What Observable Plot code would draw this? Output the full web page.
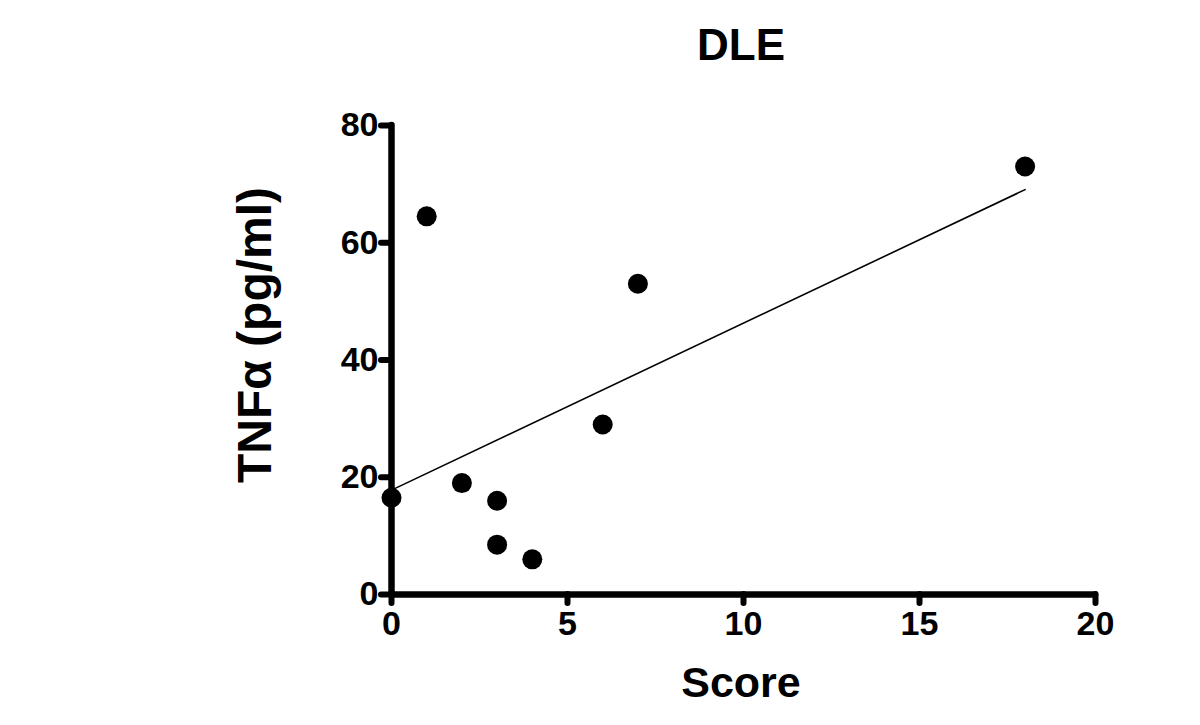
<!DOCTYPE html>
<html>
<head>
<meta charset="utf-8">
<script src="https://cdn.jsdelivr.net/npm/d3@7"></script>
<script src="https://cdn.jsdelivr.net/npm/@observablehq/plot@0.6"></script>
<style>
  html, body { margin: 0; padding: 0; background: #fff; }
  #wrap { position: relative; width: 1200px; height: 725px; font-family: 'Liberation Sans', Arial, sans-serif; font-weight: bold; color: #000; }
  #wrap svg { display: block; }
  .lbl { position: absolute; white-space: nowrap; line-height: 1; }
  #title { left: 741px; top: 45px; font-size: 44px; transform: translate(-50%, -50%); }
  #xlabel { left: 741px; top: 682px; font-size: 43px; transform: translate(-50%, -50%); }
  #ylabel { left: 255px; top: 335px; font-size: 48px; transform: translate(-50%, -50%) rotate(-90deg); }
</style>
</head>
<body>
<div id="wrap">
  <div id="chart"></div>
  <div class="lbl" id="title"></div>
  <div class="lbl" id="xlabel"></div>
  <div class="lbl" id="ylabel"></div>
</div>
<script>
const title = "DLE";
const xLabel = "Score";
const yLabel = "TNFα (pg/ml)";
const scores = [0, 1, 2, 3, 3, 4, 6, 7, 18];
const tnf = [16.5, 64.5, 19, 16, 8.5, 6, 29, 53, 73];
const xTicks = [0, 5, 10, 15, 20];
const yTicks = [0, 20, 40, 60, 80];

const data = scores.map((s, i) => ({score: s, tnf: tnf[i]}));
const font = "'Liberation Sans', Arial, sans-serif";

const chart = Plot.plot({
  width: 1200,
  height: 725,
  marginLeft: 391,
  marginRight: 105,
  marginTop: 125,
  marginBottom: 131,
  style: {fontFamily: font, background: "#fff", color: "#000"},
  x: {domain: [0, 20], ticks: xTicks},
  y: {domain: [0, 80], ticks: yTicks},
  marks: [
    Plot.axisX({ticks: xTicks, tickSize: 9, tickPadding: 7, fontSize: 34, fontWeight: "bold", strokeWidth: 6, strokeLinecap: "round", label: null}),
    Plot.axisY({ticks: yTicks, tickSize: 10, tickPadding: 3, fontSize: 34, fontWeight: "bold", strokeWidth: 6, strokeLinecap: "round", label: null}),
    Plot.ruleX([0], {y1: 0, y2: 80, strokeWidth: 6.5, strokeLinecap: "round"}),
    Plot.ruleY([0], {x1: 0, x2: 20, strokeWidth: 6.5, strokeLinecap: "round"}),
    Plot.linearRegressionY(data, {x: "score", y: "tnf", ci: 0, stroke: "#000", strokeWidth: 1.6}),
    Plot.dot(data, {x: "score", y: "tnf", r: 10, fill: "#000", stroke: "none"})
  ]
});
document.getElementById("chart").appendChild(chart);
document.getElementById("title").textContent = title;
document.getElementById("xlabel").textContent = xLabel;
document.getElementById("ylabel").textContent = yLabel;
</script>
</body>
</html>
